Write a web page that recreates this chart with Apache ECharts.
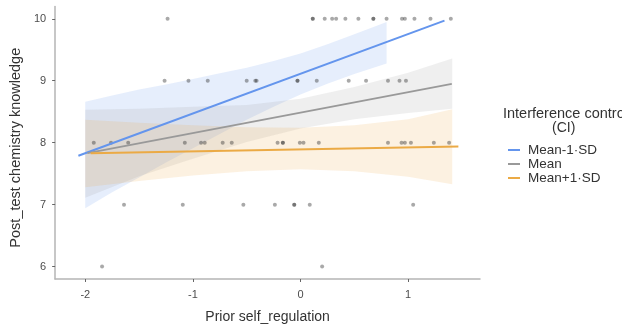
<!DOCTYPE html>
<html>
<head>
<meta charset="utf-8">
<script src="https://cdn.jsdelivr.net/npm/echarts@6/dist/echarts.min.js"></script>
<style>html,body{margin:0;padding:0;background:#fff}#c{width:622px;height:329px}</style>
</head>
<body>
<div id="c"></div>
<script>
// ---- data ----
const xTicks = [-2, -1, 0, 1];
const yTicks = [6, 7, 8, 9, 10];
const groupNames = ['Mean-1·SD', 'Mean', 'Mean+1·SD'];

// observed points (x, y)
const obsX = [
  -1.235, 0.114, 0.114, 0.225, 0.294, 0.331, 0.417, 0.538, 0.677, 0.677, 0.800, 0.943, 0.970, 1.059, 1.208, 1.397,
  -1.263, -1.041, -0.862, -0.500, -0.420, -0.408, -0.028, -0.028, 0.151, 0.448, 0.609, 0.813, 0.920, 0.980,
  -1.921, -1.761, -1.601, -1.075, -0.924, -0.890, -0.723, -0.639, -0.213, -0.164, -0.164, -0.006, 0.028, 0.170, 0.813, 0.939, 0.970, 1.026, 1.239, 1.381,
  -1.640, -1.094, -0.531, -0.238, -0.058, -0.058, 0.086, 1.047,
  -1.844, 0.201
];
const obsY = [
  10, 10, 10, 10, 10, 10, 10, 10, 10, 10, 10, 10, 10, 10, 10, 10,
  9, 9, 9, 9, 9, 9, 9, 9, 9, 9, 9, 9, 9, 9,
  8, 8, 8, 8, 8, 8, 8, 8, 8, 8, 8, 8, 8, 8, 8, 8, 8, 8, 8, 8,
  7, 7, 7, 7, 7, 7, 7, 7,
  6, 6
];

// fitted lines: endpoints
const lowSDLineX = [-2.064, 1.338];
const lowSDLineY = [7.79, 9.97];
const meanLineX = [-1.98, 1.406];
const meanLineY = [7.83, 8.95];
const highSDLineX = [-1.95, 1.467];
const highSDLineY = [7.83, 7.94];

// confidence bands
const lowSDBandX = [-2.0, -1.75, -1.5, -1.25, -1.0, -0.75, -0.5, -0.25, 0.0, 0.25, 0.5, 0.8];
const lowSDBandUp = [8.66, 8.76, 8.86, 8.94, 9.03, 9.12, 9.21, 9.32, 9.44, 9.59, 9.75, 9.95];
const lowSDBandLo = [6.94, 7.20, 7.44, 7.68, 7.91, 8.14, 8.37, 8.58, 8.78, 8.95, 9.11, 9.28];

const meanBandX = [-2.0, -1.5, -1.0, -0.5, 0.0, 0.5, 1.0, 1.41];
const meanBandUp = [8.53, 8.55, 8.58, 8.61, 8.71, 8.90, 9.13, 9.36];
const meanBandLo = [7.11, 7.46, 7.74, 8.01, 8.23, 8.38, 8.48, 8.55];

const highSDBandX = [-2.0, -1.5, -1.0, -0.5, 0.0, 0.5, 1.0, 1.41];
const highSDBandUp = [8.37, 8.32, 8.28, 8.25, 8.24, 8.28, 8.38, 8.54];
const highSDBandLo = [7.28, 7.38, 7.47, 7.54, 7.57, 7.54, 7.45, 7.33];

// ---- styles ----
const colors = ['#6495ED', '#999999', '#EBAA45'];
const FONT = 'Liberation Sans, Arial, sans-serif';

function zip(a, b) { return a.map((v, i) => [v, b[i]]); }

function bandSeries(xs, up, lo, color) {
  return {
    type: 'custom',
    coordinateSystem: 'cartesian2d',
    silent: true,
    z: 1,
    data: [[xs[0], up[0]]],
    renderItem: function (params, api) {
      const pts = [];
      for (let i = 0; i < xs.length; i++) pts.push(api.coord([xs[i], up[i]]));
      for (let i = xs.length - 1; i >= 0; i--) pts.push(api.coord([xs[i], lo[i]]));
      return {
        type: 'polygon',
        shape: { points: pts },
        style: { fill: color, opacity: 0.16 }
      };
    }
  };
}

function lineSeries(name, xs, ys, color, w) {
  return {
    name: name,
    type: 'line',
    data: zip(xs, ys),
    showSymbol: false,
    symbol: 'none',
    z: 4,
    lineStyle: { color: color, width: w },
    itemStyle: { color: color },
    silent: true
  };
}

const axisGray = '#b5b5b5';
const labelGray = '#4d4d4d';

const chart = echarts.init(document.getElementById('c'), null, { renderer: 'canvas' });
chart.setOption({
  animation: false,
  backgroundColor: '#ffffff',
  textStyle: { fontFamily: FONT },
  grid: { left: 54, right: 142, top: 6.4, bottom: 45.8, containLabel: false },
  xAxis: {
    type: 'value',
    min: -2.28, max: 1.668,
    name: 'Prior self_regulation',
    nameLocation: 'middle',
    nameGap: 31,
    nameTextStyle: { color: '#333', fontSize: 14, fontFamily: FONT },
    splitLine: { show: false },
    axisLine: { show: true, onZero: false, lineStyle: { color: axisGray, width: 1.5 } },
    axisTick: { show: true, length: 3, customValues: xTicks, lineStyle: { color: '#666', width: 1 } },
    axisLabel: { customValues: xTicks, color: labelGray, fontSize: 11, margin: 10, fontFamily: FONT }
  },
  yAxis: {
    type: 'value',
    min: 5.8, max: 10.2,
    name: 'Post_test chemistry knowledge',
    nameLocation: 'middle',
    nameGap: 23,
    nameRotate: 90,
    nameTextStyle: { color: '#333', fontSize: 14.5, fontFamily: FONT, padding: [0, 10, 0, 0] },
    splitLine: { show: false },
    axisLine: { show: true, onZero: false, lineStyle: { color: axisGray, width: 1.5 } },
    axisTick: { show: true, length: 3, customValues: yTicks, lineStyle: { color: '#666', width: 1 } },
    axisLabel: { customValues: yTicks, color: labelGray, fontSize: 11, margin: 9, fontFamily: FONT }
  },
  legend: {
    orient: 'vertical',
    left: 503,
    top: 138,
    itemWidth: 12,
    itemHeight: 2,
    itemGap: 0,
    icon: 'rect',
    data: groupNames,
    textStyle: { color: '#333', fontSize: 13.5, fontFamily: FONT, padding: [0, 0, 0, 3] },
    selectedMode: false
  },
  graphic: [
    { type: 'text', left: 503, top: 106, style: { text: 'Interference control', fill: '#333', font: '14.5px ' + FONT } },
    { type: 'text', left: 552, top: 121, style: { text: '(CI)', fill: '#333', font: '14px ' + FONT } }
  ],
  series: [
    bandSeries(lowSDBandX, lowSDBandUp, lowSDBandLo, colors[0]),
    bandSeries(meanBandX, meanBandUp, meanBandLo, colors[1]),
    bandSeries(highSDBandX, highSDBandUp, highSDBandLo, colors[2]),
    {
      type: 'scatter',
      data: zip(obsX, obsY),
      symbolSize: 4,
      z: 3,
      silent: true,
      itemStyle: { color: 'rgba(40,40,40,0.5)' }
    },
    lineSeries(groupNames[0], lowSDLineX, lowSDLineY, colors[0], 2),
    lineSeries(groupNames[1], meanLineX, meanLineY, colors[1], 1.8),
    lineSeries(groupNames[2], highSDLineX, highSDLineY, colors[2], 2)
  ]
});
</script>
</body>
</html>
